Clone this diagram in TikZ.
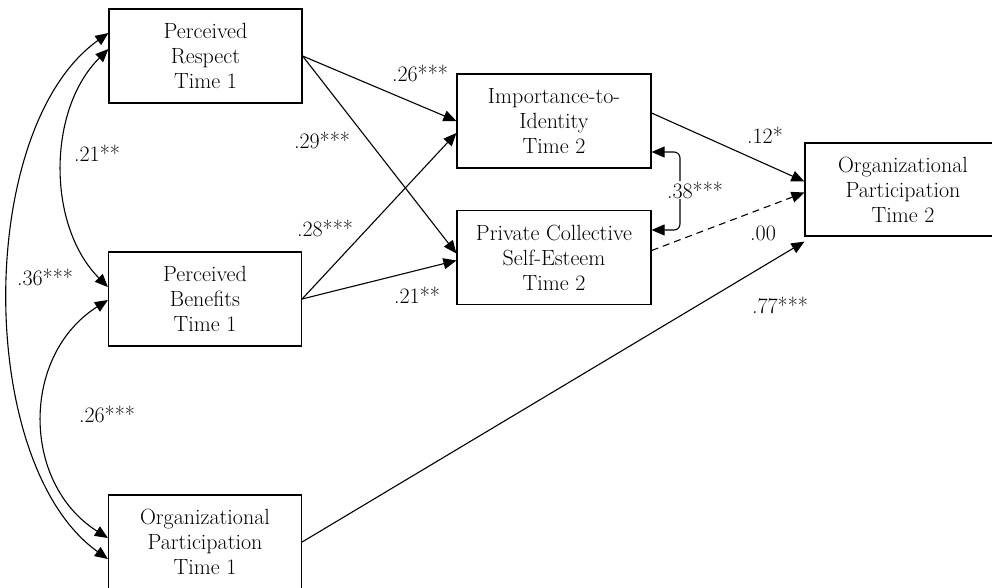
\documentclass[tikz,border=0pt]{standalone}
\usetikzlibrary{arrows.meta,calc}
\begin{document}
\begin{tikzpicture}[x=1pt,y=-1pt,
  box/.style={draw, line width=1.2pt, minimum width=193pt, minimum height=94pt, align=center, inner sep=0pt, font=\fontsize{22}{25}\selectfont},
  lab/.style={font=\fontsize{22}{24}\selectfont, inner sep=1pt},
  conn/.style={line width=1.1pt, -{Triangle[length=13pt,width=11pt]}},
  dconn/.style={line width=1.1pt, {Triangle[length=13pt,width=11pt]}-{Triangle[length=13pt,width=11pt]}},
  dashedconn/.style={conn, dash pattern=on 7pt off 5pt}
]
\useasboundingbox (0,0) rectangle (992,587);

% boxes
\node[box] (pr)  at (205.5,56)  {Perceived\\Respect\\Time 1};
\node[box] (pb)  at (205,299)   {Perceived\\Benefits\\Time 1};
\node[box] (op1) at (205,542)   {Organizational\\Participation\\Time 1};
\node[box, minimum width=194pt] (iid) at (554,121)  {Importance-to-\\Identity\\Time 2};
\node[box, minimum width=194pt] (pcs) at (554,257.5) {Private Collective\\Self-Esteem\\Time 2};
\node[box, minimum width=196pt, minimum height=93pt] (op2) at (903,189.5) {Organizational\\Participation\\Time 2};

% paths to Time 2 mediators
\draw[conn] (pr.east) -- (iid.west);
\draw[conn] (pr.east) -- ($(pcs.west)+(0,-4)$);
\draw[conn] (pb.east) -- ($(iid.west)+(0,12)$);
\draw[conn] (pb.east) -- ($(pcs.west)+(0,3)$);

% paths to outcome
\draw[conn] ($(iid.east)+(0,-8)$) -- ($(op2.west)+(0,-8)$);
\draw[dashedconn] ($(pcs.east)+(0,-7)$) -- ($(op2.west)+(0,3)$);
\draw[conn] (op1.east) -- ($(op2.south west)+(0,5)$);

% mediator correlation
\draw[dconn, rounded corners=6pt] ($(iid.east)+(0,31)$) -- (680,152) -- (680,230) -- ($(pcs.east)+(0,-27.5)$);

% left correlations
\draw[dconn] ($(pr.west)+(0,-7)$) .. controls (47,110) and (47,226) .. ($(pb.west)+(0,-12)$);
\draw[dconn] ($(pr.west)+(0,-23)$) .. controls (-25,128) and (-25,464) .. ($(op1.west)+(0,17)$);
\draw[dconn] ($(pb.west)+(0,1)$) .. controls (21,355) and (21,483) .. ($(op1.west)+(0,-4)$);

% labels
\node[lab] (l1)  at (97,153)  {.21**};
\node[lab] (l2)  at (45,277)  {.36***};
\node[lab] (l3)  at (107,414) {.26***};
\node[lab] (l4)  at (420,73)  {.26***};
\node[lab] (l5)  at (322,140) {.29***};
\node[lab] (l6)  at (325,228) {.28***};
\node[lab] (l7)  at (417,295) {.21**};
\node[lab] (l8)  at (765,135) {.12*};
\node[lab, fill=white] (l9) at (695,190) {.38***};
\node[lab] (l10) at (763,233) {.00};
\node[lab] (l11) at (780,305) {.77***};
\end{tikzpicture}
\end{document}
